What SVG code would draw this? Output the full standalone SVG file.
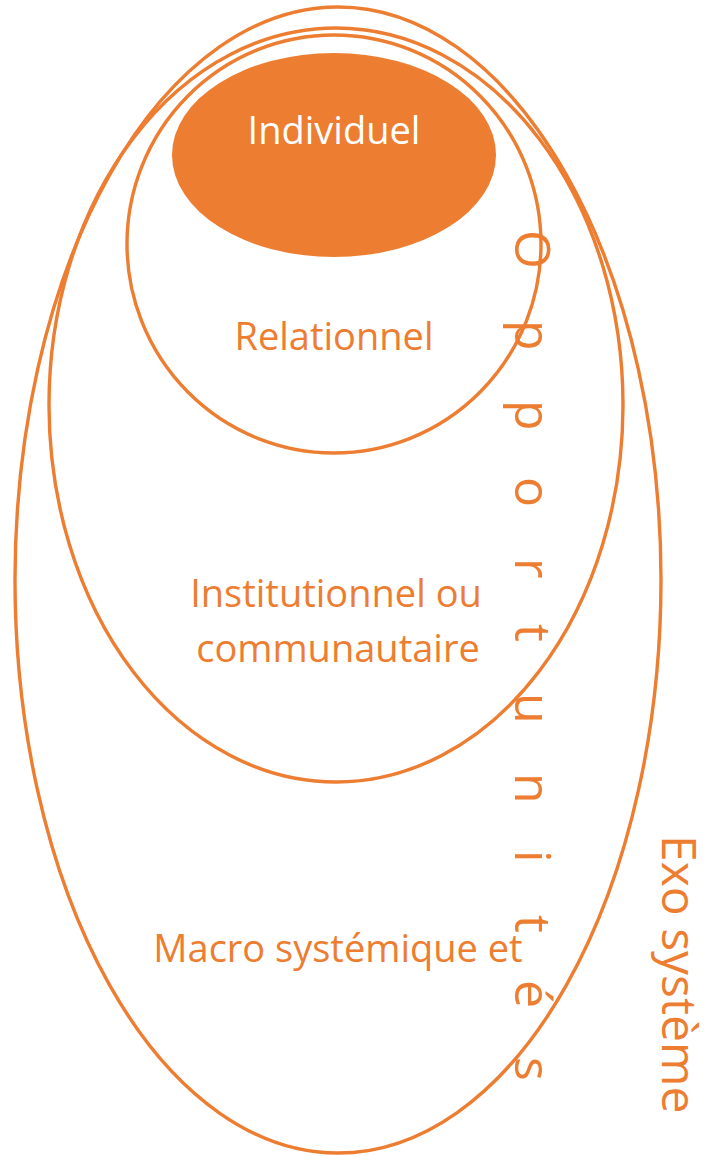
<svg xmlns="http://www.w3.org/2000/svg" width="706" height="1156" viewBox="0 0 706 1156">
<style>
.ring{fill:none;stroke:#ED7D31;stroke-width:3.4}
.lbl{font-family:"Open Sans","Liberation Sans",sans-serif;font-size:38px;fill:#ED7D31;text-anchor:middle}
.vert{font-family:"Open Sans","Liberation Sans",sans-serif;font-size:50px;fill:#ED7D31}
.exo{font-family:"Open Sans","Liberation Sans",sans-serif;font-size:48px;fill:#ED7D31}
</style>
<rect width="706" height="1156" fill="#ffffff"/>
<g id="macro">
<ellipse class="ring" cx="338" cy="580" rx="323" ry="573"/>
<text class="lbl" x="338" y="962">Macro systémique et</text>
</g>
<g id="institutionnel">
<ellipse class="ring" cx="336" cy="405" rx="287" ry="377"/>
<text class="lbl" x="336" y="607">Institutionnel ou</text>
<text class="lbl" x="338" y="662">communautaire</text>
</g>
<g id="relationnel">
<ellipse class="ring" cx="334" cy="244" rx="207" ry="209"/>
<text class="lbl" x="334" y="350">Relationnel</text>
</g>
<g id="individuel">
<ellipse cx="334" cy="155" rx="162" ry="102" fill="#ED7D31"/>
<text class="lbl" x="334" y="144" style="fill:#ffffff">Individuel</text>
</g>
<g id="opportunites">
<text class="vert" transform="rotate(90)" y="-515" x="230 320 400 477 558 624 693 773 850 915 980 1057">Opportunités</text>
</g>
<g id="exo">
<text class="exo" transform="rotate(90)" y="-662" x="835">Exo système</text>
</g>
<g id="connectors"/>
</svg>
